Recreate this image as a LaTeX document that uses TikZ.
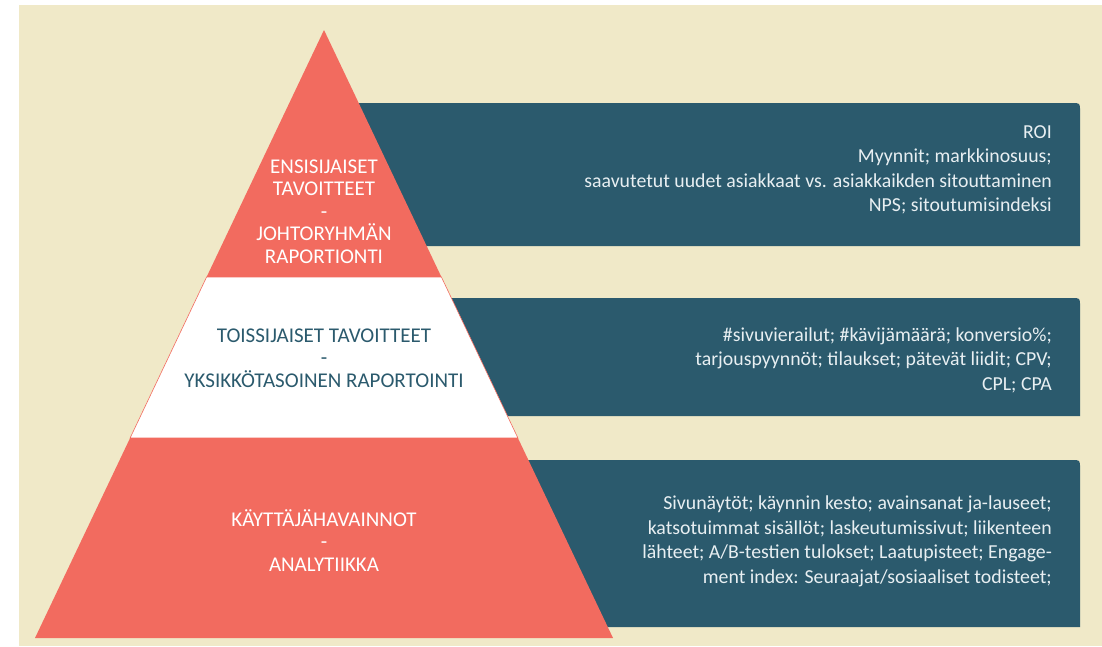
\documentclass[tikz,border=0pt]{standalone}
\usepackage{fontspec}
\setmainfont{Carlito}
\definecolor{cream}{HTML}{F0E9C8}
\definecolor{coral}{HTML}{F26B5F}
\definecolor{slate}{HTML}{2B5A6D}
\definecolor{paletext}{HTML}{E8EFF2}
\begin{document}
\begin{tikzpicture}[x=1pt,y=-1pt,
  panel/.style={fill=slate},
  tierlabel/.style={align=center,font=\fontsize{21}{22.5}\selectfont,inner sep=0pt,anchor=base},
  metrics/.style={align=right,font=\fontsize{19.8}{24.4}\selectfont,text=paletext,inner sep=0pt,anchor=base east}]
\useasboundingbox (0,0) rectangle (1102,646);
% backdrop
\fill[cream] (19,5) rectangle (1102,646);
% metric panels, rounded at the top right corner
\fill[panel] (340,246) -- (340,103) -- (1072,103) .. controls (1080,103) .. (1080,111) -- (1080,246) -- cycle;
\fill[panel] (340,416) -- (340,298) -- (1072,298) .. controls (1080,298) .. (1080,306) -- (1080,416) -- cycle;
\fill[panel] (340,627) -- (340,460) -- (1072,460) .. controls (1080,460) .. (1080,468) -- (1080,627) -- cycle;
% pyramid tiers
\fill[coral] (324,30) -- (441.4,277) -- (206.6,277) -- cycle;
\fill[white,draw=coral,line width=0.6pt] (206.6,277) -- (441.4,277) -- (517.9,438) -- (130.1,438) -- cycle;
\fill[coral] (130.1,438) -- (517.9,438) -- (613,638) -- (35,638) -- cycle;
% tier labels (base anchor sits on the last line)
\node[tierlabel,text=white] (top) at (324,263) {ENSISIJAISET\\TAVOITTEET\\-\\JOHTORYHMÄN\\RAPORTIONTI};
\node[tierlabel,text=slate] (mid) at (324,387) {TOISSIJAISET TAVOITTEET\\-\\YKSIKKÖTASOINEN RAPORTOINTI};
\node[tierlabel,text=white] (low) at (324,571) {KÄYTTÄJÄHAVAINNOT\\-\\ANALYTIIKKA};
% metric texts
\node[metrics] (topm) at (1052,211.7) {ROI\\Myynnit; markkinosuus;\\saavutetut uudet asiakkaat vs. asiakkaikden sitouttaminen\\NPS; sitoutumisindeksi};
\node[metrics] (midm) at (1052,390) {\#sivuvierailut; \#kävijämäärä; konversio\%;\\tarjouspyynnöt; tilaukset; pätevät liidit; CPV;\\CPL; CPA};
\node[metrics] (lowm) at (1052,583) {Sivunäytöt; käynnin kesto; avainsanat ja-lauseet;\\katsotuimmat sisällöt; laskeutumissivut; liikenteen\\lähteet; A/B-testien tulokset; Laatupisteet; Engage-\\ment index: Seuraajat/sosiaaliset todisteet;};
\end{tikzpicture}
\end{document}
